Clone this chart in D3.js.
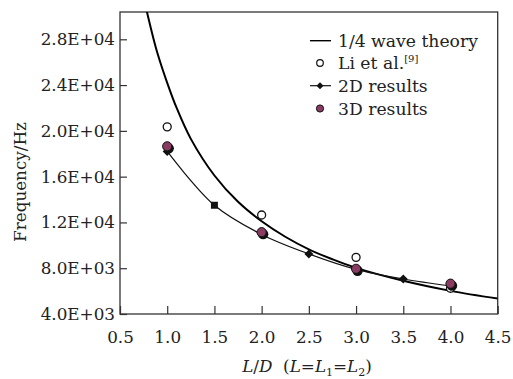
<!DOCTYPE html>
<html>
<head>
<meta charset="utf-8">
<script src="https://cdn.jsdelivr.net/npm/d3@7"></script>
<style>
  body { margin: 0; background: #fff; }
  text { font-family: "DejaVu Serif", serif; fill: #222; }
</style>
</head>
<body>
<div id="chart"></div>
<script>
// Data
const theoryLD = [0.785, 0.85, 0.9, 1.0, 1.1, 1.25, 1.5, 1.75, 2.0, 2.25, 2.5, 2.75, 3.0, 3.5, 4.0, 4.5];
const theoryFreq = [30400, 28200, 26700, 24200, 22000, 19300, 16100, 13800, 12100, 10750, 9650, 8780, 8030, 6900, 6020, 5350];

const liLD = [1.0, 2.0, 3.0, 4.0];
const liFreq = [20350, 12650, 8950, 6250];

const res2dLD = [1.0, 1.5, 2.0, 2.5, 3.0, 3.5, 4.0];
const res2dFreq = [18200, 13500, 10950, 9250, 7900, 7060, 6450];

const res3dLD = [1.0, 2.0, 3.0, 4.0];
const res3dFreq = [18650, 11150, 7950, 6650];

const xTicks = [0.5, 1.0, 1.5, 2.0, 2.5, 3.0, 3.5, 4.0, 4.5];
const yTicks = [4000, 8000, 12000, 16000, 20000, 24000, 28000];
const yTickLabels = ["4.0E+03", "8.0E+03", "1.2E+04", "1.6E+04", "2.0E+04", "2.4E+04", "2.8E+04"];

const legendLabels = ["1/4 wave theory", "Li et al.", "2D results", "3D results"];

// Layout
const W = 513, H = 379;
const plotL = 120, plotR = 497.7, plotT = 12, plotB = 314;

const svg = d3.select("#chart")
    .append("svg")
    .attr("width", W)
    .attr("height", H);

const x = d3.scaleLinear().domain([0.5, 4.5]).range([plotL, plotR]);
const y = d3.scaleLinear().domain([4000, 30385]).range([plotB, plotT]);

svg.append("clipPath").attr("id", "plot")
    .append("rect")
    .attr("x", plotL).attr("y", plotT)
    .attr("width", plotR - plotL).attr("height", plotB - plotT);

// Axes (inward ticks)
const xAxis = svg.append("g")
    .attr("transform", `translate(0,${plotB})`)
    .call(d3.axisBottom(x).tickValues(xTicks).tickFormat(d3.format(".1f"))
        .tickSizeInner(-8).tickSizeOuter(0).tickPadding(17));
const yAxis = svg.append("g")
    .attr("transform", `translate(${plotL},0)`)
    .call(d3.axisLeft(y).tickValues(yTicks).tickFormat((d, i) => yTickLabels[i])
        .tickSizeInner(-7).tickSizeOuter(0).tickPadding(5));

[xAxis, yAxis].forEach(g => {
    g.select(".domain").remove();
    g.selectAll("line").attr("stroke", "#333").attr("stroke-width", 1.2);
    g.selectAll("text").attr("font-size", 16.8).attr("fill", "#222")
        .style("font-family", "DejaVu Serif, serif");
});

// Frame
svg.append("rect")
    .attr("x", plotL).attr("y", plotT)
    .attr("width", plotR - plotL).attr("height", plotB - plotT)
    .attr("fill", "none").attr("stroke", "#333").attr("stroke-width", 1.3);

// Axis titles
const xTitle = svg.append("text")
    .attr("x", 307).attr("y", 372)
    .attr("text-anchor", "middle")
    .attr("font-size", 16.8);
xTitle.append("tspan").attr("font-style", "italic").text("L");
xTitle.append("tspan").text("/");
xTitle.append("tspan").attr("font-style", "italic").text("D");
xTitle.append("tspan").text("\u00a0\u00a0(");
xTitle.append("tspan").attr("font-style", "italic").text("L");
xTitle.append("tspan").text("=");
xTitle.append("tspan").attr("font-style", "italic").text("L");
xTitle.append("tspan").attr("font-size", 11).attr("dy", 4).text("1");
xTitle.append("tspan").attr("dy", -4).text("=");
xTitle.append("tspan").attr("font-style", "italic").text("L");
xTitle.append("tspan").attr("font-size", 11).attr("dy", 4).text("2");
xTitle.append("tspan").attr("dy", -4).text(")");

svg.append("text")
    .attr("transform", "translate(26,182) rotate(-90)")
    .attr("text-anchor", "middle")
    .attr("font-size", 16.8)
    .text("Frequency/Hz");

const plot = svg.append("g").attr("clip-path", "url(#plot)");

// 1/4 wave theory curve
const theory = theoryLD.map((d, i) => [d, theoryFreq[i]]);
plot.append("path")
    .datum(theory)
    .attr("fill", "none")
    .attr("stroke", "#000")
    .attr("stroke-width", 2)
    .attr("d", d3.line().x(d => x(d[0])).y(d => y(d[1])).curve(d3.curveCatmullRom));

// 2D results line
const res2d = res2dLD.map((d, i) => [d, res2dFreq[i]]);
plot.append("path")
    .datum(res2d)
    .attr("fill", "none")
    .attr("stroke", "#111")
    .attr("stroke-width", 1.2)
    .attr("d", d3.line().x(d => x(d[0])).y(d => y(d[1])).curve(d3.curveCatmullRom));

// Li et al. open circles
plot.selectAll(".li")
    .data(liLD.map((d, i) => [d, liFreq[i]]))
    .enter().append("circle")
    .attr("class", "li")
    .attr("cx", d => x(d[0])).attr("cy", d => y(d[1]))
    .attr("r", 4)
    .attr("fill", "#fff").attr("stroke", "#111").attr("stroke-width", 1.3);

// 2D markers (diamonds, the 1.5 point drawn as a square)
plot.selectAll(".d2")
    .data(res2d)
    .enter().append("path")
    .attr("class", "d2")
    .attr("transform", d => `translate(${x(d[0])},${y(d[1])})`)
    .attr("d", d => d[0] === 1.5 ? "M-3.5,-3.5H3.5V3.5H-3.5Z" : "M0,-4.5L4.5,0L0,4.5L-4.5,0Z")
    .attr("fill", "#111");

// 3D markers (shadowed filled circles)
const res3d = res3dLD.map((d, i) => [d, res3dFreq[i]]);
plot.selectAll(".d3s")
    .data(res3d)
    .enter().append("circle")
    .attr("class", "d3s")
    .attr("cx", d => x(d[0]) + 1.5).attr("cy", d => y(d[1]) + 2)
    .attr("r", 5.2)
    .attr("fill", "#111");
plot.selectAll(".d3")
    .data(res3d)
    .enter().append("circle")
    .attr("class", "d3")
    .attr("cx", d => x(d[0])).attr("cy", d => y(d[1]))
    .attr("r", 4.6)
    .attr("fill", "#8a3b62").attr("stroke", "#111").attr("stroke-width", 1);

// Legend
const lg = svg.append("g");
const rowY = [40.7, 63, 85.7, 108.5];
const markX = 320, textX = 338;

lg.append("line")
    .attr("x1", 310).attr("x2", 331).attr("y1", rowY[0]).attr("y2", rowY[0])
    .attr("stroke", "#000").attr("stroke-width", 1.4);
lg.append("circle")
    .attr("cx", markX).attr("cy", rowY[1]).attr("r", 3.3)
    .attr("fill", "#fff").attr("stroke", "#111").attr("stroke-width", 1.2);
lg.append("line")
    .attr("x1", 310).attr("x2", 331).attr("y1", rowY[2]).attr("y2", rowY[2])
    .attr("stroke", "#111").attr("stroke-width", 1.2);
lg.append("path")
    .attr("transform", `translate(${markX},${rowY[2]})`)
    .attr("d", "M0,-3.5L3.5,0L0,3.5L-3.5,0Z")
    .attr("fill", "#111");
lg.append("circle")
    .attr("cx", markX).attr("cy", rowY[3]).attr("r", 3.6)
    .attr("fill", "#8a3b62").attr("stroke", "#111").attr("stroke-width", 1);

legendLabels.forEach((label, i) => {
    const t = lg.append("text")
        .attr("x", textX).attr("y", rowY[i])
        .attr("dy", "0.35em")
        .attr("font-size", 17.2)
        .text(label);
    if (i === 1) {
        t.append("tspan").attr("font-size", 10).attr("dy", "-0.7em").text("[9]");
    }
});
</script>
</body>
</html>
